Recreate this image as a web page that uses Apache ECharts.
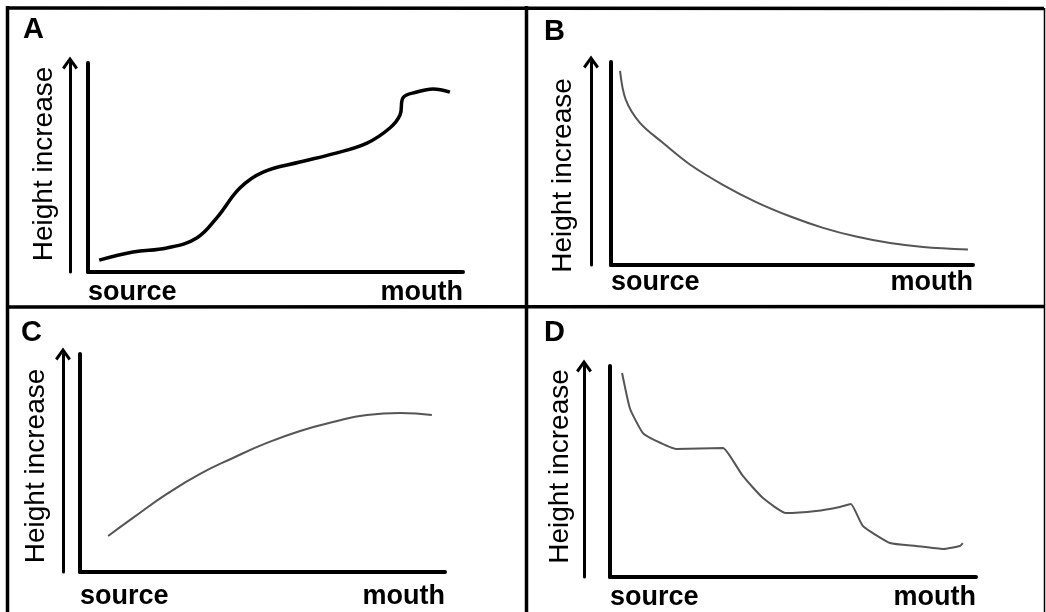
<!DOCTYPE html>
<html>
<head>
<meta charset="utf-8">
<title>Height increase from source to mouth</title>
<script src="https://cdn.jsdelivr.net/npm/echarts@6/dist/echarts.min.js"></script>
<style>
  html, body { margin: 0; padding: 0; background: #fff; }
  #main { width: 1046px; height: 612px; }
</style>
</head>
<body>
<div id="main"></div>
<script>
// panel letters and axis words
var panels = ['A', 'B', 'C', 'D'];
var xTickLabels = ['source', 'mouth'];
var yName = 'Height increase';

var posA = [3, 12, 21, 29, 34.5, 40.5, 46.7, 56.5, 65.3, 74.4, 80.5, 83.2, 84, 87.7, 92, 96.5];
var heightA = [5.7, 9.6, 11.5, 16.3, 26.3, 40.2, 47.8, 52.6, 56.5, 61.7, 68.9, 75.1, 83.3, 86.1, 87.6, 86.1];

var posB = [2.5, 4.1, 8, 14.4, 21.8, 30.9, 40.1, 49.4, 58.6, 67.7, 77.1, 86.2, 98.6];
var heightB = [95.6, 81.3, 70, 60.1, 49.5, 39.5, 31, 24, 18.3, 14, 10.8, 8.9, 7.6];

var posC = [7.7, 14.5, 23.8, 32.9, 41.9, 51.2, 60.3, 69.3, 78.6, 87.7, 96.4];
var heightC = [16.5, 24.8, 35.8, 45, 52.3, 59.2, 64.7, 68.8, 72, 72.9, 72];

var posD = [3.3, 5.5, 9, 12.6, 18, 30.9, 32.8, 36.3, 41.8, 48.1, 56.3, 62.8, 65.8, 69.1, 76.5, 83.6, 91, 95.6, 96.4];
var heightD = [96.7, 79.6, 68.2, 64.5, 60.7, 61.1, 57.3, 47.9, 37.4, 30.3, 31.3, 33.2, 34.6, 24.2, 16.1, 14.7, 13.3, 14.7, 16.1];

function zip(xs, ys) {
    return xs.map(function (x, i) { return [x, ys[i]]; });
}

var FONT = '"Liberation Sans", Arial, sans-serif';
var ARROW = 'path://M5,0 L10,7 L8.5,8.2 L5,3.2 L1.5,8.2 L0,7 Z';

// layout of the four little plots
var grids = [
    { left: 88, top: 63, width: 375, height: 209 },
    { left: 611, top: 62, width: 362, height: 203 },
    { left: 80, top: 354, width: 365, height: 218 },
    { left: 610, top: 366, width: 366, height: 211 }
];
var titlePos = [[23, 15], [544, 17], [21, 318], [544, 318]];
var nameGaps = [30, 34, 30, 36];
var namePads = [[0, 0, 0, 7], [0, 24, 0, 0], [0, 6, 0, 0], [0, 0, 0, 10]];
var arrowOffsets = [18, 20, 17, 26];
var labelMargins = [7, 4, 11, 7];

var xAxes = [], yAxes = [], titles = [];
grids.forEach(function (g, i) {
    titles.push({
        text: panels[i],
        left: titlePos[i][0],
        top: titlePos[i][1],
        padding: 0,
        textStyle: { fontFamily: FONT, fontSize: 29, fontWeight: 'bold', color: '#000' }
    });
    xAxes.push({
        type: 'value', gridIndex: i, min: 0, max: 100, interval: 100,
        axisLine: { lineStyle: { color: '#000', width: 4 } },
        axisTick: { show: false },
        splitLine: { show: false },
        axisLabel: {
            margin: labelMargins[i],
            fontFamily: FONT, fontSize: 27, fontWeight: 'bold', color: '#000',
            alignMinLabel: 'left', alignMaxLabel: 'right',
            formatter: function (v) { return v === 0 ? xTickLabels[0] : xTickLabels[1]; }
        }
    });
    yAxes.push({
        type: 'value', gridIndex: i, min: 0, max: 100,
        name: yName, nameLocation: 'middle', nameRotate: 90, nameGap: nameGaps[i],
        nameTextStyle: { fontFamily: FONT, fontSize: 28, color: '#000', padding: namePads[i] },
        axisLine: { show: true, lineStyle: { color: '#000', width: 4 } },
        axisTick: { show: false },
        axisLabel: { show: false },
        splitLine: { show: false }
    });
});
// the arrows beside each vertical axis
grids.forEach(function (g, i) {
    yAxes.push({
        type: 'value', gridIndex: i, min: 0, max: 100, position: 'left', offset: arrowOffsets[i],
        axisLine: {
            show: true, symbol: ['none', ARROW], symbolSize: [17, 13],
            lineStyle: { color: '#000', width: 3 }
        },
        axisTick: { show: false },
        axisLabel: { show: false },
        splitLine: { show: false }
    });
});

var option = {
    animation: false,
    backgroundColor: '#fff',
    title: titles,
    grid: grids,
    xAxis: xAxes,
    yAxis: yAxes,
    series: [
        { type: 'line', xAxisIndex: 0, yAxisIndex: 0, data: zip(posA, heightA), smooth: 0.4,
          showSymbol: false, lineStyle: { color: '#000', width: 3.5 } },
        { type: 'line', xAxisIndex: 1, yAxisIndex: 1, data: zip(posB, heightB), smooth: 0.35,
          showSymbol: false, lineStyle: { color: '#555', width: 2 } },
        { type: 'line', xAxisIndex: 2, yAxisIndex: 2, data: zip(posC, heightC), smooth: 0.5,
          showSymbol: false, lineStyle: { color: '#555', width: 2 } },
        { type: 'line', xAxisIndex: 3, yAxisIndex: 3, data: zip(posD, heightD), smooth: 0.15,
          showSymbol: false, lineStyle: { color: '#555', width: 2 } }
    ],
    // table borders
    graphic: [
        { type: 'line', shape: { x1: 6, y1: 8, x2: 1044, y2: 8.5 }, style: { stroke: '#000', lineWidth: 3.5 } },
        { type: 'line', shape: { x1: 7.5, y1: 6, x2: 7.5, y2: 612 }, style: { stroke: '#000', lineWidth: 3.5 } },
        { type: 'line', shape: { x1: 526.5, y1: 6, x2: 526.5, y2: 612 }, style: { stroke: '#000', lineWidth: 3.5 } },
        { type: 'line', shape: { x1: 6, y1: 307, x2: 1044, y2: 306.5 }, style: { stroke: '#000', lineWidth: 3.5 } },
        { type: 'line', shape: { x1: 1044.5, y1: 8, x2: 1044.5, y2: 612 }, style: { stroke: '#000', lineWidth: 1.5 } }
    ]
};

var myChart = echarts.init(document.getElementById('main'));
myChart.setOption(option);
</script>
</body>
</html>
